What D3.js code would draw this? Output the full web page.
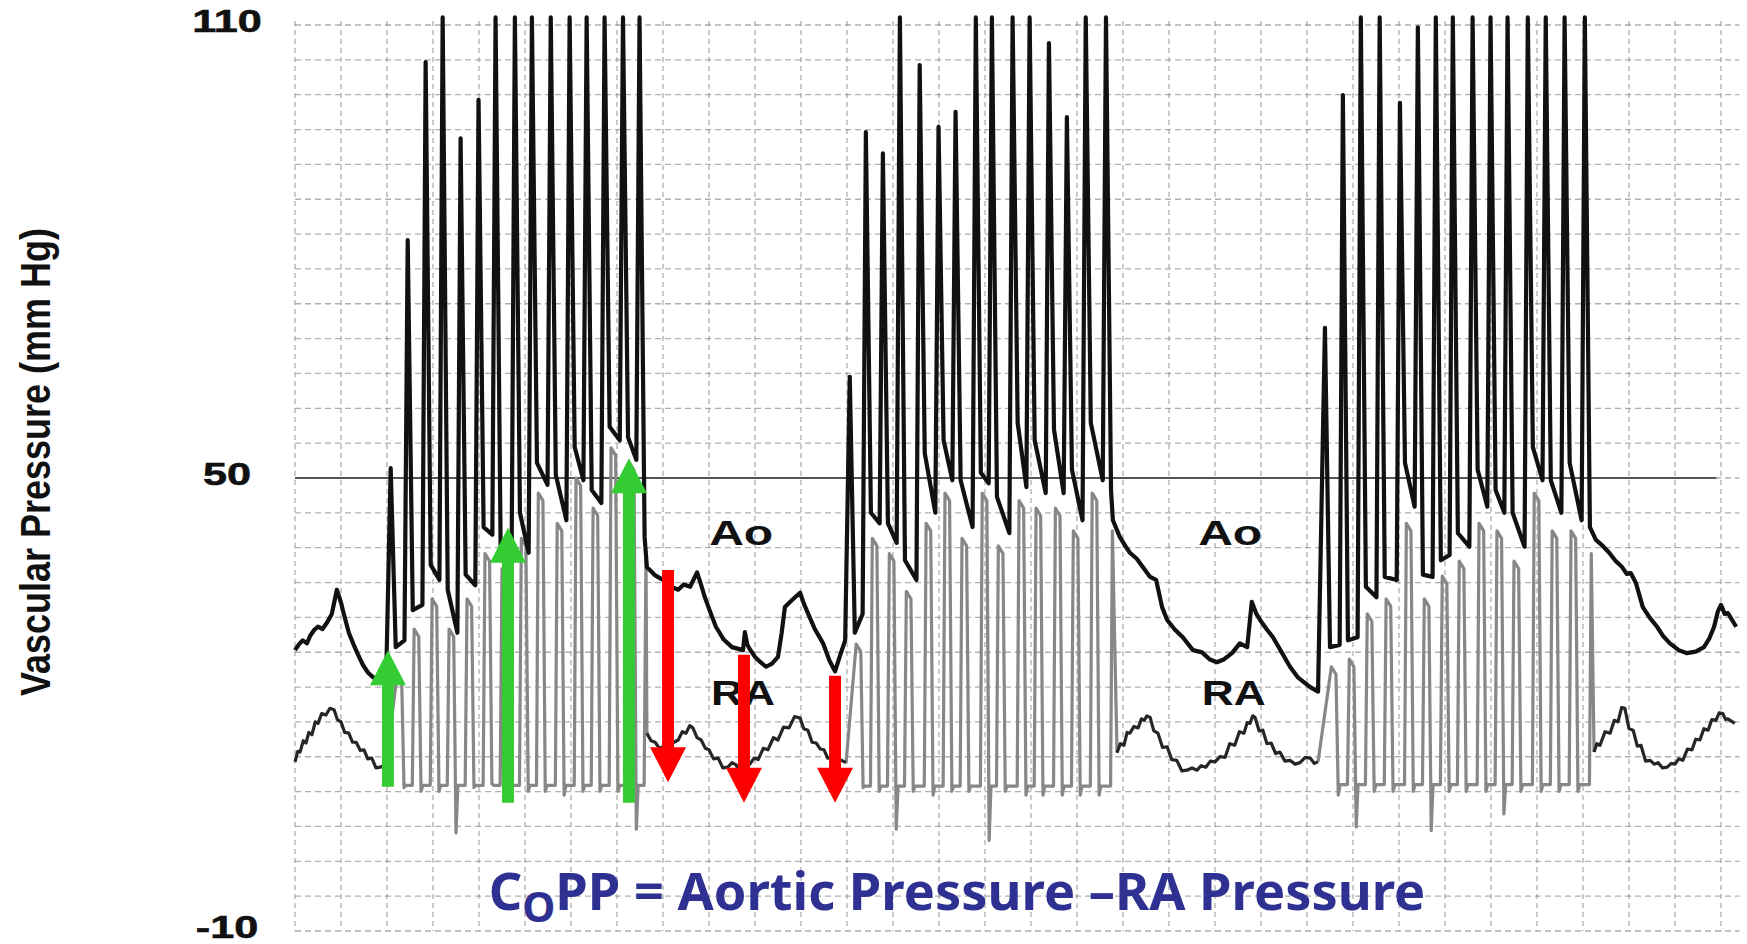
<!DOCTYPE html>
<html>
<head>
<meta charset="utf-8">
<script src="https://d3js.org/d3.v7.min.js"></script>
<style>
  body { margin: 0; background: #fff; }
  .grid line { stroke: #8f8f8f; stroke-width: 1.3; opacity: 0.7; }
  .grid .h { stroke-dasharray: 6 4; }
  .grid .v { stroke-dasharray: 5 4; }
  .lbl { font-family: "Liberation Sans", Arial, sans-serif; font-weight: bold; fill: #111; }
</style>
</head>
<body>
<svg id="trace" width="1747" height="944"></svg>
<script>
// time in grid units (one vertical grid division), pressure in mm Hg

const yTicks = [110, 50, -10];

// Ao before the first compression run: [t, mmHg]
const aoLead = [[0,27.2],[0.09,28.0],[0.17,28.5],[0.26,28.1],[0.33,29.1],[0.42,29.9],[0.5,30.3],[0.6,30.0],[0.7,30.9],[0.8,32.0],[0.91,35.2],[1.0,33.5],[1.04,32.5],[1.17,29.5],[1.27,28.0],[1.37,26.6],[1.48,25.2],[1.59,24.2],[1.7,23.6],[1.8,23.2],[1.98,23.0]];
const aoMid1 = [[7.65,38.2],[7.83,37.1],[8.0,36.5],[8.17,35.6],[8.33,35.2],[8.45,35.9],[8.59,35.6],[8.74,37.5],[8.82,36.0],[8.91,34.2],[9.03,32.2],[9.15,30.3],[9.32,28.6],[9.5,27.6],[9.62,27.4],[9.74,27.2],[9.78,29.6],[9.83,28.0],[9.87,27.5],[10.0,26.3],[10.12,25.6],[10.24,25.0],[10.37,25.4],[10.5,26.3],[10.58,29.5],[10.65,32.9],[10.8,33.8],[10.98,34.8],[11.06,33.4],[11.15,32.1],[11.3,30.0],[11.48,28.1],[11.62,25.8],[11.74,24.4],[11.85,26.5],[11.96,28.5]];
const aoMid2 = [[17.78,44.4],[17.93,42.2],[18.05,41.0],[18.15,40.1],[18.3,39.3],[18.43,38.2],[18.59,36.9],[18.72,36.5],[18.85,32.9],[18.96,31.2],[19.13,29.9],[19.3,28.9],[19.52,27.2],[19.72,26.9],[19.88,26.0],[20.04,25.6],[20.2,26.0],[20.37,26.8],[20.54,28.1],[20.7,27.6],[20.8,33.6],[20.9,32.0],[20.98,31.2],[21.12,30.0],[21.26,28.9],[21.46,26.8],[21.63,25.0],[21.8,23.6],[22.07,22.3],[22.24,21.7]];
const aoTail = [[28.28,41.8],[28.43,41.0],[28.57,40.1],[28.71,39.0],[28.85,38.2],[28.95,37.3],[29.04,37.4],[29.15,36.1],[29.3,32.9],[29.45,31.5],[29.61,30.3],[29.75,29.0],[29.89,28.1],[30.08,27.2],[30.26,26.8],[30.45,27.0],[30.63,27.6],[30.75,28.8],[30.85,30.3],[30.93,32.3],[31.0,33.2],[31.08,32.0],[31.15,32.1],[31.33,30.3]];

// RA outside the compression runs
const raLead = [[0,12.4],[0.06,13.8],[0.11,13.7],[0.18,15.2],[0.24,14.9],[0.3,16.3],[0.37,16.0],[0.44,17.7],[0.5,17.5],[0.58,18.8],[0.67,18.6],[0.76,19.5],[0.85,19.3],[0.92,18.0],[1.0,17.7],[1.08,16.3],[1.17,16.2],[1.25,15.0],[1.33,15.0],[1.42,13.9],[1.5,14.0],[1.58,12.8],[1.67,12.9],[1.76,11.6],[1.85,11.7],[1.98,12.0]];
const raMid1 = [[7.65,16.2],[7.74,15.2],[7.83,15.0],[7.92,14.2],[8.0,14.4],[8.08,15.9],[8.15,15.6],[8.24,15.0],[8.33,15.3],[8.42,16.4],[8.5,16.2],[8.58,17.2],[8.65,16.9],[8.74,15.6],[8.83,15.3],[8.92,14.2],[9.0,14.0],[9.1,12.8],[9.2,12.9],[9.3,11.6],[9.41,11.7],[9.5,12.3],[9.59,12.0],[9.66,11.0],[9.74,11.3],[9.82,12.4],[9.89,12.1],[9.98,12.9],[10.07,12.7],[10.18,14.2],[10.28,14.0],[10.4,15.6],[10.5,15.3],[10.62,17.0],[10.74,16.9],[10.86,18.4],[10.98,18.2],[11.06,16.8],[11.15,16.6],[11.24,15.0],[11.33,14.9],[11.42,14.1],[11.5,14.0],[11.58,12.9],[11.65,13.0],[11.75,12.6],[11.85,12.7],[11.98,12.3]];
const raMid2 = [[17.87,13.6],[17.94,14.8],[18.02,14.6],[18.09,16.3],[18.15,16.2],[18.24,17.1],[18.33,16.9],[18.4,18.1],[18.46,17.9],[18.52,18.5],[18.59,18.3],[18.67,16.5],[18.76,16.2],[18.86,14.3],[18.96,14.4],[19.06,12.7],[19.17,12.6],[19.28,11.2],[19.39,11.3],[19.5,11.6],[19.61,11.3],[19.7,11.9],[19.8,11.7],[19.9,12.5],[20.0,12.4],[20.11,13.1],[20.22,13.0],[20.32,14.8],[20.43,14.6],[20.53,16.4],[20.63,16.2],[20.7,17.6],[20.76,17.5],[20.82,18.5],[20.87,18.3],[20.96,16.5],[21.04,16.6],[21.13,14.8],[21.22,14.9],[21.32,13.5],[21.41,13.7],[21.52,12.5],[21.63,12.6],[21.74,12.1],[21.85,12.3],[21.96,13.0],[22.07,12.9],[22.16,12.2],[22.24,12.4]];
const raTail = [[28.24,13.7],[28.3,14.8],[28.37,14.6],[28.48,16.4],[28.59,16.2],[28.68,17.9],[28.76,17.7],[28.84,19.6],[28.91,19.5],[29.0,16.8],[29.09,16.6],[29.18,14.5],[29.26,14.6],[29.36,12.5],[29.46,12.6],[29.55,12.1],[29.63,12.3],[29.73,11.6],[29.83,11.7],[29.92,12.2],[30.0,12.1],[30.08,12.8],[30.17,12.6],[30.27,14.1],[30.37,14.0],[30.45,15.4],[30.54,15.3],[30.63,16.8],[30.72,16.6],[30.8,18.0],[30.89,17.9],[30.96,18.9],[31.04,18.8],[31.1,18.0],[31.15,18.1],[31.3,17.5]];

// compression runs, one entry per compression
const run1Onset  = [2.02, 2.39, 2.78, 3.15, 3.54, 3.93, 4.30, 4.72, 5.09, 5.50, 5.91, 6.28, 6.67, 7.07, 7.43];
const run1AoPeak = [51.3, 81.5, 105.1, 111, 95.0, 100.1, 111, 111, 111, 111, 111, 111, 111, 111, 111];
const run1AoPost = [27.6, 32.5, 38.5, 35.2, 37.2, 43.5, 40.9, 45.4, 52.0, 50.4, 54.1, 48.4, 56.8, 55.4, 42.2];
const run1AoPre  = [28.5, 33.2, 36.5, 29.5, 35.8, 42.5, 40.5, 40.1, 49.1, 44.4, 49.7, 46.7, 55.0, 52.4];
const run1RaPeak = [24, 30, 34, 30, 34, 40, 38, 42, 48, 44, 50, 46, 54, 52, 40];
const run1RaLow  = [9, 8.5, 8.5, 3, 9, 9.5, 8, 8.5, 8.5, 8, 8.5, 8.5, 8.5, 3.5, 8];

const run2Onset  = [12.0, 12.35, 12.72, 13.09, 13.52, 13.93, 14.3, 14.74, 15.09, 15.54, 15.91, 16.33, 16.72, 17.13, 17.57];
const run2AoPeak = [63.4, 95.8, 93.0, 111, 104.7, 96.5, 98.5, 111, 111, 111, 111, 107.6, 97.8, 111, 111];
const run2AoPost = [29.5, 45.4, 44.0, 39.1, 53.3, 55.0, 49.7, 50.7, 47.5, 57.3, 55.0, 56.4, 51.1, 57.3, 48.3];
const run2AoPre  = [32.0, 44.0, 41.4, 36.5, 45.4, 49.7, 43.5, 49.3, 42.7, 48.8, 48.0, 48.0, 44.4, 49.7];
const run2RaPeak = [28, 42, 40, 35, 44, 48, 42, 48, 41, 47, 46, 46, 43, 48, 43];
const run2RaLow  = [9, 8.5, 3.5, 8.5, 8, 8.5, 8.5, 2, 8.5, 8, 8, 8, 8, 8, 7.5];

const run3Onset  = [22.33, 22.72, 23.11, 23.52, 23.96, 24.35, 24.74, 25.11, 25.54, 25.93, 26.3, 26.74, 27.13, 27.54, 27.98];
const run3AoPeak = [69.9, 100.7, 111, 111, 99.7, 109.7, 111, 111, 111, 111, 111, 111, 111, 111, 111];
const run3AoPost = [27.6, 28.5, 35.6, 36.9, 52.0, 37.2, 39.1, 42.7, 51.1, 48.4, 45.4, 54.1, 49.7, 52.0, 43.5];
const run3AoPre  = [27.9, 28.9, 34.2, 36.5, 46.2, 36.9, 39.8, 40.9, 46.2, 45.4, 40.9, 49.7, 45.4, 44.4];
const run3RaPeak = [25, 26, 32, 34, 44, 34, 37, 39, 44, 43, 39, 48, 43, 43, 40];
const run3RaLow  = [8, 3.8, 8.5, 8.5, 8.5, 3.3, 8.5, 8.5, 8.5, 5.5, 8.5, 8.5, 8.5, 8.5, 8];

const raFloor = [9.3, 9.2, 9.4];

// pressure gradient arrows: time, from (mm Hg), to (mm Hg)
const greenArrows = [[2.02, 9.1, 27.2], [4.63, 7.0, 43.4], [7.26, 7.0, 52.6]];
const redArrows   = [[8.11, 37.8, 9.7], [9.76, 26.6, 7.0], [11.74, 23.8, 7.0]];

// trace labels: text, time, mm Hg (baseline)
const traceLabels = [["Ao", 9.7, 41.1], ["RA", 9.74, 19.9], ["Ao", 20.33, 41.1], ["RA", 20.41, 19.9]];

let svg = d3.select('#trace');

let x = d3.scaleLinear().domain([0, 31.4]).range([295, 295 + 46 * 31.4]);
let y = d3.scaleLinear().domain([-10, 110]).range([931, 25]);

// chart paper grid
let grid = svg.append('g').attr('class', 'grid');
grid.selectAll('line.v')
    .data(d3.range(0, 32))
    .join('line')
    .attr('class', 'v')
    .attr('x1', d => x(d)).attr('x2', d => x(d))
    .attr('y1', y(110) - 4).attr('y2', y(-10));
grid.selectAll('line.h')
    .data(d3.range(27).map(k => -10 + k * 120 / 26))
    .join('line')
    .attr('class', 'h')
    .attr('x1', x(0)).attr('x2', x(31.4))
    .attr('y1', d => y(d)).attr('y2', d => y(d));

svg.append('line')
    .attr('x1', x(0)).attr('x2', x(30.9))
    .attr('y1', y(50)).attr('y2', y(50))
    .attr('stroke', '#555').attr('stroke-width', 2);

// build traces
function aoRun(onset, peak, post, pre) {
    let pts = [];
    onset.forEach((t, i) => {
        pts.push([t + 0.06, peak[i]]);
        pts.push([t + 0.17, post[i]]);
        if (i < onset.length - 1) pts.push([onset[i + 1] - 0.01, pre[i]]);
    });
    return pts;
}

function raRun(onset, peak, low, floor) {
    let pts = [];
    onset.forEach((t, i) => {
        if (i > 0) pts.push([t + 0.16, floor]);
        pts.push([t + 0.2, peak[i]]);
        if (i < onset.length - 1) {
            pts.push([t + 0.3, peak[i] - 1]);
            pts.push([t + 0.35, low[i]]);
            pts.push([t + 0.39, floor]);
        }
    });
    return pts;
}

let ao = [].concat(
    aoLead,
    aoRun(run1Onset, run1AoPeak, run1AoPost, run1AoPre),
    aoMid1,
    aoRun(run2Onset, run2AoPeak, run2AoPost, run2AoPre),
    aoMid2,
    aoRun(run3Onset, run3AoPeak, run3AoPost, run3AoPre),
    aoTail
);

let raQuiet = [raLead, raMid1, raMid2, raTail];
let raRuns = [
    [raLead[raLead.length - 1]].concat(raRun(run1Onset, run1RaPeak, run1RaLow, raFloor[0]), [raMid1[0]]),
    [raMid1[raMid1.length - 1]].concat(raRun(run2Onset, run2RaPeak, run2RaLow, raFloor[1]), [raMid2[0]]),
    [raMid2[raMid2.length - 1]].concat(raRun(run3Onset, run3RaPeak, run3RaLow, raFloor[2]), [raTail[0]])
];

let line = d3.line().x(d => x(d[0])).y(d => y(d[1]));

svg.append('g').selectAll('path')
    .data(raRuns)
    .join('path')
    .attr('d', line)
    .attr('fill', 'none')
    .attr('stroke', '#878787')
    .attr('stroke-width', 3.2)
    .attr('stroke-linejoin', 'round');

svg.append('g').selectAll('path')
    .data(raQuiet)
    .join('path')
    .attr('d', line)
    .attr('fill', 'none')
    .attr('stroke', '#262626')
    .attr('stroke-width', 3.2)
    .attr('stroke-linejoin', 'round');

svg.append('path')
    .attr('d', line(ao))
    .attr('fill', 'none')
    .attr('stroke', '#111')
    .attr('stroke-width', 4.2)
    .attr('stroke-linejoin', 'round');

// trace labels
svg.selectAll('text.trace')
    .data(traceLabels)
    .join('text')
    .attr('class', 'trace lbl')
    .attr('x', d => x(d[1]))
    .attr('y', d => y(d[2]))
    .attr('text-anchor', 'middle')
    .attr('font-size', 35)
    .attr('textLength', 64)
    .attr('lengthAdjust', 'spacingAndGlyphs')
    .text(d => d[0]);

// arrows
function arrowPath(d) {
    let cx = x(d[0]), y0 = y(d[1]), y1 = y(d[2]);
    let dir = y1 < y0 ? -1 : 1;
    let hw = 6, hh = 18, hl = 35;
    let yb = y1 - dir * hl;
    return `M${cx - hw},${y0} L${cx - hw},${yb} L${cx - hh},${yb} L${cx},${y1} L${cx + hh},${yb} L${cx + hw},${yb} L${cx + hw},${y0} Z`;
}
svg.selectAll('path.garrow')
    .data(greenArrows)
    .join('path')
    .attr('class', 'garrow')
    .attr('d', arrowPath)
    .attr('fill', '#33cc33');
svg.selectAll('path.rarrow')
    .data(redArrows)
    .join('path')
    .attr('class', 'rarrow')
    .attr('d', arrowPath)
    .attr('fill', '#ff0000');

// y axis labels
svg.selectAll('g.ytick')
    .data(yTicks)
    .join('g')
    .attr('class', 'ytick')
    .attr('transform', d => `translate(227,${y(d) - 4}) scale(1.35,1)`)
    .append('text')
    .attr('class', 'lbl')
    .attr('text-anchor', 'middle')
    .attr('font-size', 32)
    .attr('stroke', '#111')
    .attr('stroke-width', 0.6)
    .attr('dominant-baseline', 'central')
    .text(d => d);

svg.append('text')
    .attr('class', 'lbl')
    .attr('transform', `translate(50,${y(50) - 16}) scale(1.2,1) rotate(-90)`)
    .attr('text-anchor', 'middle')
    .attr('font-size', 35)
    .attr('textLength', 468)
    .attr('lengthAdjust', 'spacingAndGlyphs')
    .text('Vascular Pressure (mm Hg)');

// formula
let formula = svg.append('text')
    .attr('x', 957)
    .attr('y', 910)
    .attr('text-anchor', 'middle')
    .attr('font-family', '"Noto Sans", "Open Sans", sans-serif')
    .attr('font-weight', 'bold')
    .attr('font-size', 48)
    .attr('fill', '#2e3192');
formula.append('tspan').text('C');
formula.append('tspan').attr('font-size', '0.8em').attr('dy', 12).text('O');
formula.append('tspan').attr('dy', -12).text('PP = Aortic Pressure \u2013RA Pressure');
let w = formula.node().getBBox().width;
formula.attr('font-size', 48 * 937 / w);
</script>
</body>
</html>
